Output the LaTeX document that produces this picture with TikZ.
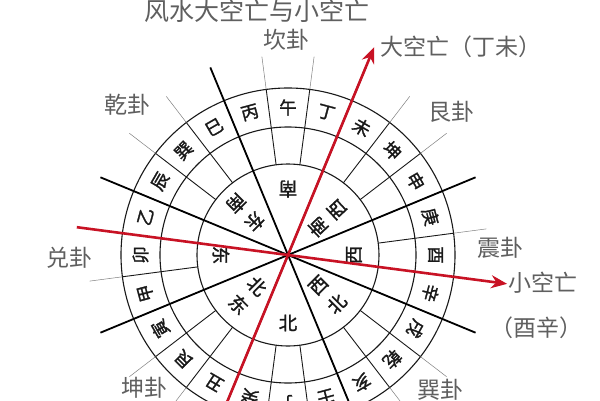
\documentclass[tikz,border=0pt]{standalone}
\usepackage{fontspec}
\setmainfont{Noto Sans CJK SC}
\newfontfamily\ringfont[FakeBold=1.5]{Noto Sans CJK SC}
\usetikzlibrary{arrows.meta}
\definecolor{redline}{RGB}{200,18,36}
\definecolor{labgray}{RGB}{95,95,95}
\definecolor{ink}{RGB}{25,25,25}
\begin{document}
\begin{tikzpicture}[x=1pt,y=1pt,
  ringch/.style={font=\ringfont\fontsize{17.5}{17.5}\selectfont, text=ink, inner sep=0pt},
  dirch/.style={font=\ringfont\fontsize{18.5}{18.5}\selectfont, text=ink, inner sep=0pt},
  gualab/.style={font=\fontsize{23}{23}\selectfont, text=labgray, inner sep=0pt},
  titlelab/.style={font=\fontsize{25}{25}\selectfont, text=labgray, inner sep=0pt},
  thickln/.style={line width=1.8pt, draw=black},
  ringcirc/.style={line width=1.1pt, draw=ink},
  divln/.style={line width=0.9pt, draw=ink},
  extln/.style={line width=0.5pt, draw=gray},
  redarrow/.style={line width=2.6pt, draw=redline, -{Stealth[length=16pt,width=13pt]}}
]
\useasboundingbox[fill=white] (-288,-145) rectangle (312,255);
\coordinate (O) at (0,0);
% 24 divisions between the rings
\foreach \k in {0,...,23} {
  \draw[divln] ({82.5-15*\k}:91) -- ({82.5-15*\k}:167);
}
% circles
\draw[ringcirc] (O) circle (91);
\draw[ringcirc] (O) circle (128);
\draw[ringcirc] (O) circle (167);
% thin extension lines round each trigram
\foreach \k in {0,...,7} {
  \draw[extln] ({90-45*\k-7.5}:167) -- ({90-45*\k-7.5}:200);
  \draw[extln] ({90-45*\k+7.5}:167) -- ({90-45*\k+7.5}:200);
}
% thick sector lines
\foreach \k in {0,...,7} {
  \draw[thickln] (O) -- ({67.5-45*\k}:203);
}
% 24 mountains
\foreach \c [count=\i from 0] in {午,丁,未,坤,申,庚,酉,辛,戌,乾,亥,壬,子,癸,丑,艮,寅,甲,卯,乙,辰,巽,巳,丙} {
  \node[ringch, rotate={-15*\i}] (m\i) at ({90-15*\i}:147.5) {\c};
}
% eight directions (tops toward the centre)
\node[dirch, rotate=180] (d1) at (90:66) {南};
\node[dirch, rotate=133] (d2a) at (43:67) {西};
\node[dirch, rotate=133] (d2b) at (43:41) {南};
\node[dirch, rotate=90] (d3) at (0:66) {西};
\node[dirch, rotate=45] (d4a) at (-45:43) {西};
\node[dirch, rotate=45] (d4b) at (-45:69) {北};
\node[dirch] (d5) at (-90:68) {北};
\node[dirch, rotate=-45] (d6a) at (-135:70) {东};
\node[dirch, rotate=-45] (d6b) at (-135:44) {北};
\node[dirch, rotate=-90] (d7) at (180:67) {东};
\node[dirch, rotate=-135] (d8a) at (135:47) {东};
\node[dirch, rotate=-135] (d8b) at (135:73) {南};
% red arrows
\coordinate (dkS) at (-112.5:170);
\coordinate (dkE) at (67.5:225);
\coordinate (xkS) at (172.5:213);
\coordinate (xkE) at (-7.5:221);
\draw[redarrow] (dkS) -- (dkE);
\draw[redarrow] (xkS) -- (xkE);
% labels
\node[titlelab] (title) at (-31,244) {风水大空亡与小空亡};
\node[gualab] (kan) at (-1,215) {坎卦};
\node[gualab] (qian) at (-160,150) {乾卦};
\node[gualab] (gen) at (163,143) {艮卦};
\node[gualab] (dui) at (-218,-3) {兑卦};
\node[gualab] (zhen) at (212,7) {震卦};
\node[gualab] (xun) at (152,-135) {巽卦};
\node[gualab] (kun) at (-143,-133) {坤卦};
\node[gualab, anchor=west] (dkl) at (92,208) {大空亡（丁未）};
\node[gualab, anchor=west] (xkl) at (220,-28) {小空亡};
\node[gualab] (xkl2) at (248,-73) {（酉辛）};
\end{tikzpicture}
\end{document}
